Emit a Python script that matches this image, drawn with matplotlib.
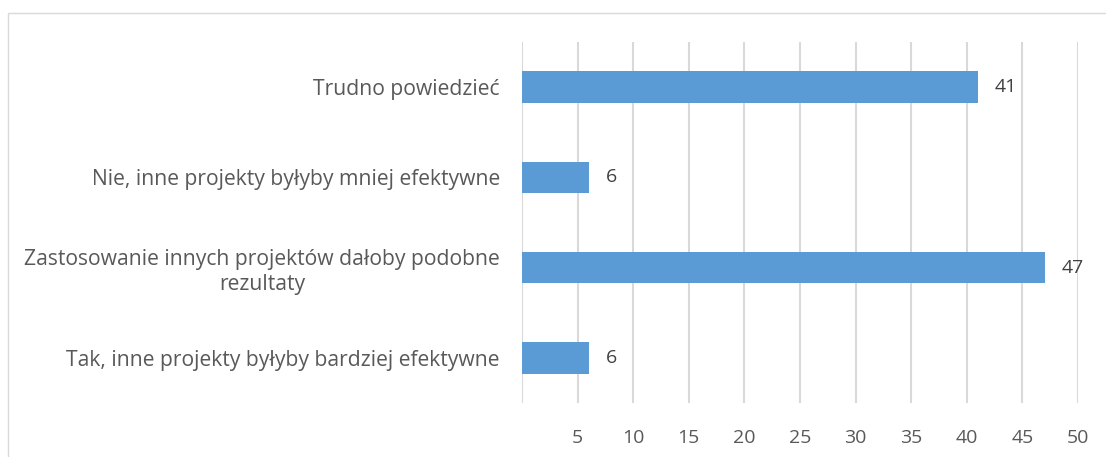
import matplotlib.pyplot as plt
import matplotlib.patches as mpatches

plt.rcParams['font.family'] = ['Open Sans', 'DejaVu Sans']

# Data (bottom to top)
categories = [
    'Tak, inne projekty byłyby bardziej efektywne',
    'Zastosowanie innych projektów dałoby podobne\nrezultaty',
    'Nie, inne projekty byłyby mniej efektywne',
    'Trudno powiedzieć',
]
values = [6, 47, 6, 41]
xticks = [5, 10, 15, 20, 25, 30, 35, 40, 45, 50]

BAR = '#5B9BD5'
TXT = '#595959'
GRID = '#D9D9D9'

fig = plt.figure(figsize=(11.06, 4.57), dpi=100)

# outer chart frame (runs off right and bottom edges)
frame = mpatches.Rectangle((8 / 1106, -0.1), 1.2, 1 - 13 / 457 + 0.1,
                           transform=fig.transFigure, fill=False,
                           edgecolor=GRID, linewidth=1.0)
fig.patches.append(frame)

ax = fig.add_axes([522 / 1106, 1 - 403 / 457, (1078 - 522) / 1106, (403 - 42) / 457])

ypos = list(range(len(categories)))
ax.barh(ypos, values, height=0.35, color=BAR, zorder=3)

for y, v in zip(ypos, values):
    ax.annotate(str(v), (v, y), xytext=(12, 0), textcoords='offset points',
                va='center', ha='left', fontsize=14, color='#404040')

ax.set_xlim(0, 50)
ax.set_ylim(-0.5, 3.5)
ax.set_xticks([0] + xticks)
ax.set_xticklabels([''] + [str(t) for t in xticks])
ax.set_yticks(ypos)
ax.set_yticklabels(categories, fontsize=15.2, color=TXT, multialignment='center',
                   linespacing=1.25)
ax.tick_params(axis='x', length=0, pad=19, labelsize=14, labelcolor=TXT)
ax.tick_params(axis='y', length=0, pad=16)
ax.xaxis.grid(True, color=GRID, linewidth=1.5, zorder=0)
ax.set_axisbelow(True)
for s in ax.spines.values():
    s.set_visible(False)

fig.savefig('out.png', dpi=100)
